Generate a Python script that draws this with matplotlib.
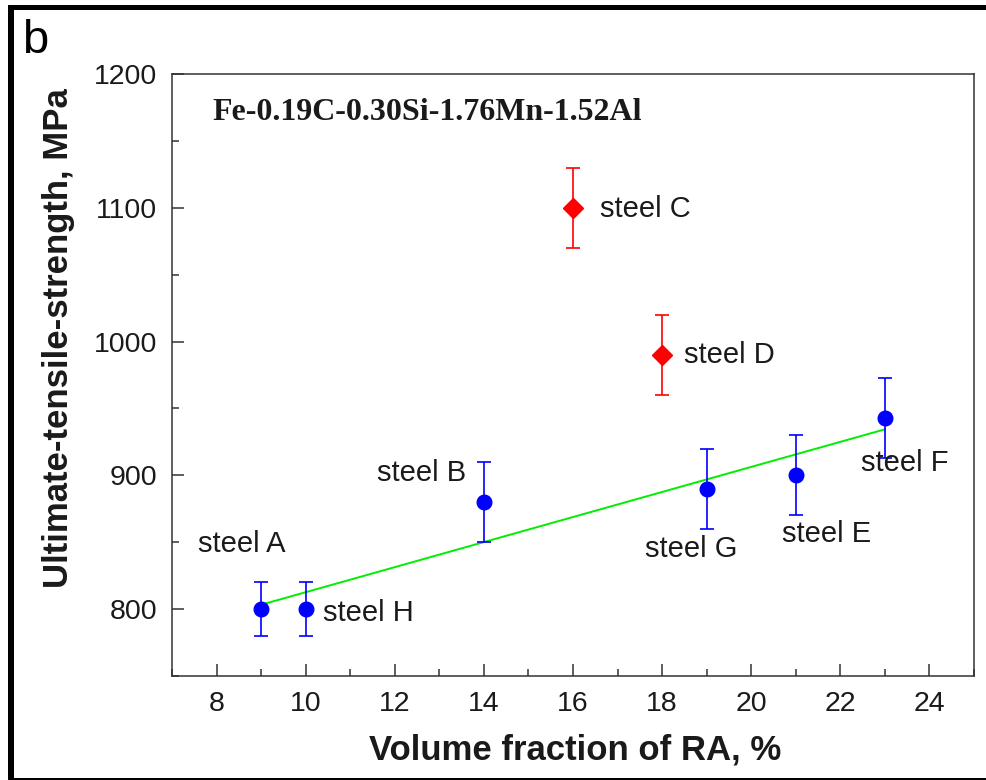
import numpy as np
import matplotlib
matplotlib.use('Agg')
import matplotlib.pyplot as plt
from matplotlib.patches import Rectangle
from matplotlib.ticker import MultipleLocator

plt.rcParams['font.family'] = ['Liberation Sans', 'DejaVu Sans']

# 残余奥氏体体积分数 (%) 与抗拉强度 (MPa)
steels_fit = ['A', 'H', 'B', 'G', 'E', 'F']
ra_fit = [9, 10, 14, 19, 21, 23]
uts_fit = [800, 800, 880, 890, 900, 943]
err_fit = [20, 20, 30, 30, 30, 30]

steels_out = ['C', 'D']
ra_out = [16, 18]
uts_out = [1100, 990]
err_out = [30, 30]

# 标签位置 (数据坐标) 与对齐方式
label_pos = {
    'A': (8.57, 849, 'center'),
    'H': (10.4, 797, 'left'),
    'B': (12.6, 902, 'center'),
    'C': (16.6, 1099, 'left'),
    'D': (18.5, 990, 'left'),
    'G': (18.65, 845, 'center'),
    'E': (21.7, 856, 'center'),
    'F': (23.45, 909, 'center'),
}

W, H = 986, 780
fig = plt.figure(figsize=(W / 100, H / 100), dpi=100)
ax = fig.add_axes([172 / W, 1 - 676 / H, (974 - 172) / W, (676 - 74) / H])

# 外框
fig.add_artist(Rectangle((8 / W, 1 - 10 / H), 1, 5 / H, transform=fig.transFigure,
                         facecolor='black', edgecolor='none'))
fig.add_artist(Rectangle((8 / W, 0), 6 / W, 1 - 5 / H, transform=fig.transFigure,
                         facecolor='black', edgecolor='none'))
fig.add_artist(Rectangle((8 / W, 0), 1, 2 / H, transform=fig.transFigure,
                         facecolor='black', edgecolor='none'))
fig.text(22 / W, 1 - 53 / H, 'b', fontsize=34, va='baseline', ha='left')

# 线性拟合 (仅蓝色点)
k, b = np.polyfit(ra_fit, uts_fit, 1)
xf = np.array([min(ra_fit), max(ra_fit)])
ax.plot(xf, k * xf + b, color='#00ee00', lw=1.4, zorder=2)

ax.errorbar(ra_fit, uts_fit, yerr=err_fit, fmt='o', color='#0000ff', ms=10.5,
            capsize=5, elinewidth=1.2, capthick=1.2, zorder=3)
ax.errorbar(ra_out, uts_out, yerr=err_out, fmt='D', color='#ff0000', ms=10.5,
            capsize=5, elinewidth=1.2, capthick=1.2, zorder=3)

for s in steels_fit + steels_out:
    x, y, ha = label_pos[s]
    ax.text(x, y, f'steel {s}', fontsize=21, ha=ha, va='center', color='#1a1a1a')

ax.text((212 - 172) / 802, (676 - 112) / 602, 'Fe-0.19C-0.30Si-1.76Mn-1.52Al',
        transform=ax.transAxes, fontsize=23, fontweight='bold',
        family='Liberation Serif', ha='left', va='center', color='#1a1a1a')

ax.set_xlim(7, 25)
ax.set_ylim(750, 1200)
ax.xaxis.set_major_locator(MultipleLocator(2))
ax.xaxis.set_minor_locator(MultipleLocator(1))
ax.yaxis.set_major_locator(MultipleLocator(100))
ax.yaxis.set_minor_locator(MultipleLocator(50))
ax.tick_params(which='both', direction='in', top=False, right=False,
               width=1.1, color='#333333', labelsize=20.5, labelcolor='#1a1a1a')
ax.tick_params(which='major', length=8.5, pad=10.5)
ax.tick_params(which='minor', length=5)
for sp in ax.spines.values():
    sp.set_linewidth(1.1)
    sp.set_color('#333333')

ax.set_xlabel('Volume fraction of RA, %', fontsize=25, fontweight='bold', color='#1a1a1a')
ax.set_ylabel('Ultimate-tensile-strength, MPa', fontsize=25, fontweight='bold', color='#1a1a1a')
ax.xaxis.set_label_coords(0.5025, -0.095)
ax.yaxis.set_label_coords(-0.121, 0.561)

fig.savefig('out.png', dpi=100)
